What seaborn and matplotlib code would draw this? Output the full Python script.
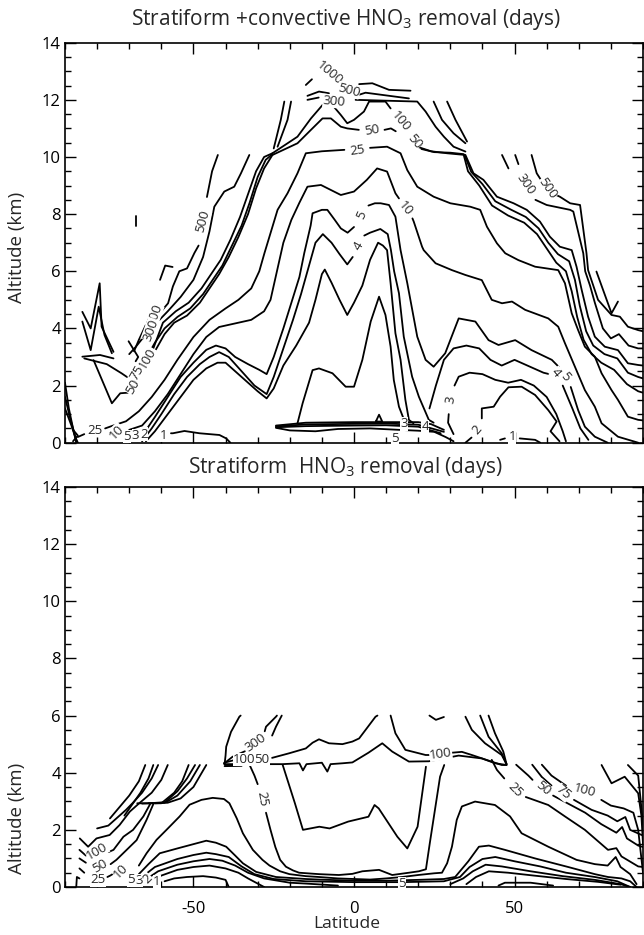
import numpy as np
import pandas as pd
import matplotlib
matplotlib.use("Agg")
import matplotlib.pyplot as plt
import seaborn as sns
from matplotlib.ticker import MultipleLocator, FixedLocator

sns.set_theme(style="ticks")
plt.rcParams['font.family'] = ['Open Sans', 'DejaVu Sans']
plt.rcParams['axes.unicode_minus'] = False

# ---------------- Top panel: contour lines (lat, altitude km) ----------------
top_1000 = [
    [(-15.0, 12.52), (-13.1, 12.72)],
    [(1.6, 12.55), (5.7, 12.58), (10.9, 12.35), (17.6, 12.32)],
    [(29.0, 11.94), (31.6, 11.30), (35.2, 10.54)],
    [(-19.6, 11.94), (-20.7, 11.30), (-23.8, 10.36)],
]
top_500 = [
    [(-14.5, 12.14), (-10.9, 12.29), (-7.8, 12.23)],
    [(0.5, 12.14), (3.6, 12.25), (17.1, 12.05)],
    [(24.8, 11.94), (27.4, 11.30), (31.0, 10.83), (34.7, 10.48)],
    [(-21.7, 11.94), (-22.8, 11.30), (-25.0, 10.30)],
    [(-42.4, 10.07), (-44.2, 9.5), (-45.8, 8.6)],
    [(-48.4, 6.9), (-49.7, 6.64), (-52.0, 6.1), (-54.4, 6.0), (-56.4, 5.47), (-57.9, 4.88), (-60.0, 4.6)],
    [(-64.5, 4.2), (-67.0, 3.6), (-68.5, 3.2)],
    [(55.3, 10.07), (56.9, 9.43), (58.5, 9.15)],
    [(62.0, 8.72), (64.1, 8.61), (67.3, 8.38), (70.4, 8.32), (72.4, 6.63), (72.9, 6.04), (76.0, 5.0),
     (80.2, 4.47), (82.8, 4.41), (85.3, 4.06), (88.5, 3.94), (90.0, 3.9)],
    [(-60.4, 5.7), (-58.8, 6.2), (-56.5, 6.15)],
    [(-67.8, 7.95), (-67.8, 7.6)],
]
top_300 = [
    [(-14.5, 12.0), (-11.0, 12.08)],
    [(0.5, 12.0), (19.7, 11.94), (22.3, 11.59), (25.4, 11.06), (28.0, 10.71), (31.0, 10.36), (34.7, 10.19)],
    [(-32.6, 10.07), (-35.2, 9.43), (-37.3, 8.96), (-40.4, 8.79), (-43.5, 8.26), (-45.0, 7.4), (-47.0, 6.5),
     (-50.0, 5.7), (-54.0, 5.1), (-58.0, 4.6), (-61.0, 4.25)],
    [(-65.5, 3.7), (-68.0, 3.35), (-70.0, 3.1)],
    [(50.2, 10.07), (51.2, 9.75)],
    [(56.5, 8.5), (60.0, 8.32), (63.0, 8.25), (67.3, 8.15), (68.3, 8.09), (71.4, 6.63), (72.0, 6.0),
     (73.5, 5.5), (75.0, 4.9), (77.5, 4.0), (80.0, 3.65), (82.5, 3.8), (85.5, 3.4), (88.5, 3.3), (90.0, 3.3)],
    [(46.1, 10.07), (48.1, 9.6)],
]
top_100 = [
    [(-25.4, 10.13), (-17.6, 10.71), (-13.4, 11.35), (-9.8, 11.82), (-7.2, 11.88), (-4.1, 11.47),
     (-2.1, 11.18), (0.0, 11.3), (3.1, 11.59), (4.7, 11.94), (9.8, 11.94), (11.4, 11.7)],
    [(19.0, 10.45), (19.7, 10.36), (24.0, 10.2), (29.0, 10.13), (34.7, 10.07), (37.2, 9.43), (40.3, 9.2),
     (44.5, 8.61), (49.7, 8.38), (53.8, 8.15), (57.9, 7.74), (61.0, 7.21), (64.1, 6.86), (67.8, 6.74),
     (69.3, 6.16), (70.9, 5.35), (72.9, 4.41), (75.0, 3.71), (78.1, 3.36), (82.2, 3.24), (85.3, 2.78),
     (88.5, 2.72), (90.0, 2.7)],
    [(-62.5, 3.3), (-59.5, 4.2), (-55.5, 4.6), (-51.5, 4.9), (-47.5, 5.4), (-44.5, 5.9), (-41.5, 6.4),
     (-38.5, 7.1), (-35.5, 7.9), (-33.0, 8.7), (-30.5, 9.5), (-28.0, 10.0), (-25.4, 10.13)],
    [(75.5, 5.99), (80.2, 4.53), (82.2, 4.94)],
]
top_75 = [
    [(-66.0, 2.75), (-64.5, 3.0), (-62.0, 3.5), (-59.0, 4.0), (-55.0, 4.4), (-51.0, 4.7), (-47.0, 5.2),
     (-44.0, 5.7), (-41.0, 6.2), (-38.0, 6.9), (-35.0, 7.6), (-32.5, 8.4), (-30.0, 9.3), (-27.5, 9.9),
     (-25.4, 10.1)],
    [(34.4, 10.08), (36.5, 9.48), (40.0, 9.05), (44.0, 8.45), (49.0, 8.15), (53.5, 7.9), (57.5, 7.5),
     (60.5, 7.0), (63.5, 6.6), (67.0, 6.35), (68.8, 5.7), (70.3, 4.8), (72.3, 3.9), (74.5, 3.4),
     (78.0, 3.1), (82.0, 2.95), (85.3, 2.45), (88.5, 2.3), (90.0, 2.25)],
]
top_50 = [
    [(-25.4, 10.07), (-17.6, 10.48), (-13.4, 10.95), (-9.8, 11.35), (-7.2, 11.35), (-4.1, 11.06),
     (-2.1, 11.0), (1.5, 10.95)],
    [(9.5, 10.95), (11.5, 11.0), (13.0, 10.9)],
    [(21.0, 10.28), (25.0, 10.17), (30.0, 10.15), (34.1, 10.1), (35.5, 9.5), (39.0, 9.0), (43.0, 8.3),
     (48.0, 7.95), (53.0, 7.7), (57.0, 7.3), (60.0, 6.8), (63.0, 6.3), (66.0, 6.0), (67.8, 5.3),
     (69.5, 4.4), (71.5, 3.6), (74.0, 3.1), (77.0, 2.8), (81.0, 2.55), (85.0, 2.05), (88.5, 1.8),
     (90.0, 1.75)],
    [(-84.0, 2.95), (-77.0, 2.75), (-72.4, 2.43), (-70.7, 2.3)],
    [(-67.0, 2.2), (-65.0, 2.6), (-62.0, 3.2), (-59.0, 3.8), (-56.0, 4.2), (-52.0, 4.45), (-48.0, 4.9),
     (-45.0, 5.4), (-42.0, 5.9), (-39.0, 6.5), (-36.0, 7.2), (-33.0, 8.0), (-30.5, 8.9), (-28.0, 9.6),
     (-25.4, 10.07)],
]
top_25 = [
    [(-86.0, 0.2), (-84.0, 0.3)],
    [(-77.5, 0.5), (-75.0, 0.6), (-71.0, 0.75), (-67.0, 1.1), (-63.0, 1.6), (-59.0, 2.2), (-55.0, 2.9),
     (-50.0, 3.7), (-45.0, 4.3), (-40.0, 4.7), (-36.0, 5.0), (-32.0, 5.4), (-29.5, 6.0), (-27.9, 6.63),
     (-23.8, 8.15), (-20.7, 8.73), (-17.6, 9.43), (-15.0, 10.13), (-10.0, 10.2), (-3.0, 10.25)],
    [(5.0, 10.32), (10.3, 10.36), (14.5, 10.13), (16.6, 9.54), (19.7, 8.96), (24.8, 8.61), (30.0, 8.38),
     (36.2, 8.26), (39.3, 8.15), (41.4, 7.56), (44.5, 6.98), (47.1, 6.63), (51.2, 6.39), (56.4, 6.16),
     (63.6, 6.04), (65.7, 5.58), (67.8, 4.53), (69.8, 3.94), (71.9, 3.36), (75.0, 3.01), (77.1, 2.43),
     (80.2, 1.84), (82.2, 1.5), (85.3, 0.91), (88.5, 0.8), (90.0, 0.78)],
]
top_10 = [
    [(-70.0, 0.45), (-66.0, 0.6), (-62.0, 1.1), (-58.0, 1.7), (-54.0, 2.4), (-50.0, 3.1), (-46.0, 3.7),
     (-42.0, 4.05), (-36.0, 4.2), (-32.0, 4.3), (-28.0, 4.6), (-26.0, 5.0), (-24.0, 6.0), (-22.0, 7.0),
     (-19.5, 7.8), (-17.0, 8.4), (-14.5, 8.96), (-10.3, 9.02), (-4.1, 8.67), (0.0, 8.79), (4.0, 9.2),
     (7.2, 9.6), (10.3, 9.49), (12.9, 8.73), (14.0, 8.55)],
    [(18.2, 7.85), (18.6, 7.74), (21.2, 6.86), (21.7, 6.74), (25.4, 6.28), (30.5, 6.04), (34.7, 5.87),
     (39.8, 5.69), (42.9, 5.0), (46.1, 4.88), (49.2, 4.94), (53.3, 4.65), (60.5, 4.35), (63.6, 4.06),
     (65.7, 3.48), (68.8, 2.66), (71.9, 1.84), (75.0, 1.26), (77.1, 0.68), (82.2, 0.21), (88.5, 0.0)],
]
top_5 = [
    [(-67.5, 0.05), (-65.0, 0.4), (-62.0, 0.9), (-58.0, 1.6), (-54.0, 2.3), (-50.0, 2.8), (-46.0, 3.25),
     (-43.0, 3.4), (-40.0, 3.3), (-37.0, 3.0), (-33.0, 2.75), (-29.5, 2.55), (-27.2, 2.4), (-25.0, 3.0),
     (-22.0, 4.0), (-19.5, 4.9), (-17.0, 5.8), (-15.5, 6.63), (-13.5, 7.6), (-12.9, 8.03), (-10.0, 8.15),
     (-8.3, 8.15), (-6.0, 7.8), (-4.1, 7.5), (-2.0, 7.35), (0.0, 7.55)],
    [(4.5, 8.3), (6.5, 8.38), (8.3, 8.38), (10.9, 8.32), (12.9, 7.91), (14.5, 6.74), (16.6, 5.58),
     (19.7, 3.71), (22.3, 2.9), (24.8, 2.66), (28.4, 3.13), (31.6, 4.06), (32.6, 4.35), (37.8, 4.24),
     (41.9, 3.59), (45.0, 3.42), (50.2, 3.59), (55.3, 3.24), (61.6, 2.9), (63.8, 2.65)],
    [(67.5, 1.95), (69.8, 1.14), (71.9, 0.56), (75.0, 0.21), (79.0, 0.0)],
]
top_4 = [
    [(-66.0, 0.05), (-63.0, 0.5), (-60.0, 1.0), (-56.0, 1.7), (-52.0, 2.3), (-48.0, 2.75), (-45.0, 3.0),
     (-42.0, 3.17), (-39.0, 3.0), (-35.0, 2.5), (-31.0, 2.0), (-27.2, 1.7), (-25.0, 2.3), (-22.0, 3.3),
     (-19.0, 4.3), (-16.5, 5.2), (-14.0, 6.2), (-12.0, 7.0), (-9.7, 7.3), (-7.0, 7.0), (-4.5, 6.6),
     (-2.1, 6.24), (-0.4, 6.5)],
    [(3.2, 7.25), (5.0, 7.35), (8.2, 7.48), (10.5, 7.3), (11.5, 6.74), (12.5, 6.0), (14.0, 5.23),
     (15.5, 3.71), (18.1, 2.31), (20.2, 1.61), (23.3, 0.8), (24.8, 0.7)],
    [(23.5, 1.2), (25.5, 2.0), (28.0, 2.9), (31.0, 3.3), (35.0, 3.4), (39.0, 3.3), (42.5, 2.9),
     (46.0, 2.7), (50.0, 2.9), (55.0, 2.65), (59.0, 2.45), (60.8, 2.4)],
    [(65.0, 2.0), (68.0, 1.2), (70.5, 0.5), (73.0, 0.1)],
]
top_3 = [
    [(-64.8, 0.05), (-62.0, 0.4), (-58.0, 1.0), (-54.0, 1.6), (-50.0, 2.2), (-46.0, 2.6), (-42.5, 2.8),
     (-40.0, 2.8), (-37.0, 2.5), (-33.0, 2.1), (-30.0, 1.8), (-27.2, 1.55), (-25.0, 1.9), (-22.0, 2.7),
     (-18.0, 3.4), (-14.0, 4.2), (-12.0, 5.0), (-10.0, 5.9), (-9.1, 6.06), (-7.0, 5.6), (-4.5, 5.0),
     (-2.1, 4.47), (0.0, 4.9), (2.6, 5.5), (5.0, 6.4), (7.5, 7.0), (9.0, 6.9), (10.3, 6.74), (11.4, 5.58),
     (12.9, 3.83), (14.5, 2.9), (16.0, 1.5), (17.1, 0.8), (18.5, 0.68)],
    [(31.0, 0.3), (29.3, 0.7), (29.5, 1.0)],
    [(31.3, 2.0), (32.6, 2.31), (36.0, 2.45), (40.0, 2.4), (44.0, 2.2), (48.0, 2.1), (52.0, 2.2),
     (56.0, 2.0), (60.0, 1.6), (63.0, 1.0), (65.0, 0.4), (66.0, 0.05)],
]
top_2 = [
    [(-17.6, 0.68), (-16.0, 1.38), (-12.9, 2.54), (-10.9, 2.6), (-6.7, 2.43), (-2.6, 1.96), (0.0, 1.96),
     (2.6, 2.9), (5.2, 4.24), (7.8, 5.11), (9.8, 4.47), (11.4, 3.36), (12.4, 2.19), (14.0, 1.26),
     (16.0, 0.68)],
    [(34.7, 0.0), (36.6, 0.18)],
    [(39.8, 0.85), (39.8, 1.2), (43.5, 1.26), (45.5, 1.61), (48.1, 1.94), (52.2, 1.96), (56.4, 1.67),
     (60.5, 1.14), (63.1, 0.74), (61.2, 0.4), (64.0, 0.05)],
]
top_1 = [
    [(-57.0, 0.33), (-56.4, 0.33), (-52.8, 0.41), (-48.1, 0.33), (-41.9, 0.27), (-39.8, 0.15), (-38.5, 0.0)],
    [(45.5, 0.1), (47.0, 0.15)],
    [(51.6, 0.15), (56.4, 0.1), (58.0, 0.0)],
]
top_inversion = [
    [(-24.3, 0.6), (-15.0, 0.7), (0.0, 0.72), (10.0, 0.72), (20.0, 0.72), (24.0, 0.65), (28.0, 0.45)],
    [(-24.3, 0.57), (-15.0, 0.64), (0.0, 0.66), (10.0, 0.67), (20.0, 0.63), (28.0, 0.38)],
    [(-24.3, 0.54), (-15.0, 0.58), (0.0, 0.6), (10.0, 0.61), (20.0, 0.56), (27.0, 0.33)],
    [(-24.3, 0.52), (-20.0, 0.43), (-12.0, 0.4), (-5.0, 0.48), (5.0, 0.5), (14.0, 0.45), (20.0, 0.42),
     (25.0, 0.38), (28.5, 0.2), (31.0, 0.05)],
    [(6.8, 0.74), (7.8, 0.98), (8.8, 0.74), (6.8, 0.74)],
]
top_edge = [
    [(-90.0, 2.1), (-88.8, 1.2), (-87.5, 0.5), (-86.5, 0.0)],
    [(-90.0, 1.6), (-88.5, 0.9), (-87.0, 0.3), (-86.3, 0.0)],
    [(-90.0, 1.2), (-88.0, 0.6), (-86.8, 0.2), (-86.0, 0.0)],
    [(-87.5, 0.45), (-86.0, 0.25), (-87.5, 0.05)],
    [(-84.6, 4.58), (-82.0, 4.0), (-79.2, 5.58), (-78.6, 4.06), (-74.9, 3.18)],
    [(-84.6, 4.24), (-82.0, 3.24), (-79.5, 4.76), (-77.7, 3.77), (-75.4, 3.13)],
    [(-84.6, 3.01), (-79.1, 3.07), (-74.9, 2.95)],
    [(-81.1, 2.89), (-75.4, 1.38), (-72.8, 1.73), (-70.4, 1.75)],
    [(-70.2, 3.55), (-67.2, 3.0), (-68.0, 2.85)],
]
top_labels = [
    ("1000", -7.6, 12.95, -40), ("500", -1.6, 12.34, -15), ("300", -6.2, 11.95, -5),
    ("50", 5.6, 10.92, 10), ("100", 14.4, 11.25, -50), ("50", 18.8, 10.55, -50),
    ("25", 1.0, 10.22, 8), ("10", 16.1, 8.2, -50), ("5", 2.3, 7.95, 65), ("4", 1.4, 6.9, 60),
    ("300", 53.6, 9.05, -55), ("500", 60.2, 8.9, -55), ("5", 65.8, 2.3, -50), ("4", 62.9, 2.45, -50),
    ("3", 30.0, 1.5, 80), ("2", 38.3, 0.45, 50), ("1", 49.3, 0.2, 0),
    ("3", 15.5, 0.66, 0), ("4", 22.2, 0.56, 0), ("5", 12.9, 0.15, 0),
    ("500", -47.1, 7.75, 75), ("500", -62.2, 4.45, 70), ("300", -63.3, 3.95, 70),
    ("100", -64.3, 2.95, 60), ("75", -67.5, 2.45, 60), ("50", -68.8, 1.95, 60),
    ("25", -80.8, 0.42, 0), ("10", -74.0, 0.38, 45), ("5", -70.6, 0.22, 0), ("3", -68.0, 0.25, 0),
    ("2", -65.4, 0.3, 0), ("1", -59.3, 0.25, 0),
]

# ---------------- Bottom panel: contour lines (lat, altitude km) ----------------
bot_upper = [
    [(-40.3, 4.3), (-30.0, 4.3), (-22.2, 4.3), (-17.0, 4.33), (-15.9, 4.08), (-14.8, 4.3), (-10.0, 4.35),
     (-8.3, 4.04), (-7.3, 4.3), (-3.6, 4.33), (-0.5, 4.36), (4.5, 4.7), (8.8, 5.03), (11.9, 4.74),
     (17.1, 4.39), (23.3, 4.4), (32.6, 4.6), (39.8, 4.5), (44.0, 4.33), (47.5, 4.27)],
    [(-40.4, 4.35), (-37.0, 4.45), (-36.5, 4.46)],
    [(-25.5, 4.52), (-20.2, 4.68), (-15.0, 4.85), (-12.9, 5.05), (-10.9, 5.17), (-7.8, 5.03),
     (-3.6, 5.0), (-0.5, 5.09), (1.6, 5.2), (6.7, 5.96), (7.3, 6.0)],
    [(-40.3, 4.3), (-40.0, 4.6), (-39.8, 4.91), (-38.3, 5.43), (-35.7, 5.96), (-35.3, 6.0)],
    [(-40.5, 4.32), (-37.8, 4.56), (-34.0, 4.75)],
    [(-27.8, 5.45), (-27.4, 5.61), (-24.3, 5.96), (-24.0, 6.0)],
    [(-22.5, 6.0), (-24.3, 5.61), (-25.5, 5.3)],
    [(-40.3, 4.26), (-33.0, 4.26)], [(-40.3, 4.23), (-35.0, 4.24)],
    [(11.4, 6.0), (12.9, 5.38), (16.0, 4.8), (22.3, 4.62), (23.5, 4.62)],
    [(30.5, 4.7), (33.6, 4.73), (36.7, 4.62), (46.0, 4.27), (47.5, 4.27)],
    [(23.5, 6.0), (25.5, 5.85), (28.0, 5.95)],
    [(34.7, 5.96), (36.7, 5.5), (40.8, 5.03), (46.0, 4.62), (47.5, 4.3)],
    [(39.3, 6.0), (41.9, 5.26), (46.0, 4.68), (47.5, 4.3)],
    [(41.9, 6.0), (43.9, 5.38), (46.5, 4.74), (47.5, 4.3)],
]
bot_25 = [
    [(-32.5, 4.27), (-31.0, 3.9), (-30.0, 3.6)],
    [(-27.4, 2.6), (-26.0, 2.0), (-24.5, 1.4), (-23.0, 0.95), (-21.2, 0.71), (-19.0, 0.58), (-17.1, 0.5),
     (-10.9, 0.45), (-4.7, 0.42), (-0.5, 0.46), (2.6, 0.55), (7.8, 0.6), (11.9, 0.42), (17.1, 0.5),
     (20.2, 0.55), (22.4, 0.62), (23.6, 1.53), (26.8, 3.86), (28.1, 4.27)],
    [(42.9, 4.45), (44.5, 4.1), (46.8, 3.8)],
    [(53.5, 3.15), (60.5, 2.87), (65.7, 2.47), (71.9, 2.0), (79.1, 1.3), (81.7, 1.36), (83.3, 1.07),
     (88.5, 0.72), (90.0, 0.7)],
]
bot_50 = [
    [(-22.2, 4.27), (-18.4, 2.93), (-15.9, 2.0), (-10.8, 2.11), (-7.6, 2.05), (-1.8, 2.29), (4.5, 2.46),
     (6.4, 2.87), (7.7, 2.75), (13.5, 1.76), (16.6, 1.35), (19.8, 2.11), (22.4, 4.21)],
    [(50.5, 4.28), (54.3, 3.9), (55.6, 3.75)],
    [(62.0, 3.2), (67.0, 2.9), (72.0, 2.6), (77.0, 2.2), (81.7, 1.9), (83.5, 2.1), (85.0, 1.7),
     (88.5, 1.45), (90.0, 1.4)],
]
bot_75 = [
    [(55.5, 4.28), (58.5, 3.85), (61.5, 3.55)],
    [(68.5, 3.05), (74.0, 2.7), (79.0, 2.5), (82.0, 2.3), (84.5, 2.45), (86.0, 2.0), (90.0, 1.8)],
]
bot_100 = [
    [(58.5, 4.28), (61.5, 3.9), (66.0, 3.55)],
    [(77.0, 3.05), (80.0, 2.85), (84.0, 2.75), (87.0, 2.6), (88.5, 2.0), (89.5, 1.0), (90.0, 0.5)],
    [(77.1, 4.27), (80.2, 3.63), (84.3, 3.86), (88.5, 3.28), (89.5, 2.5), (90.0, 1.5)],
    [(85.3, 4.27), (88.5, 3.9), (89.3, 3.0), (90.0, 2.2)],
]
bot_left = [
    [(-85.4, 1.7), (-82.8, 1.41), (-80.2, 1.7), (-76.1, 1.82), (-73.0, 2.17), (-69.8, 2.64), (-67.0, 2.92),
     (-63.0, 3.3), (-60.0, 3.75), (-58.0, 4.27)],
    [(-80.0, 2.05), (-76.5, 2.15), (-73.5, 2.45), (-71.0, 2.7), (-69.0, 2.93), (-66.0, 3.3), (-63.0, 3.8),
     (-61.0, 4.27)],
    [(-76.0, 2.4), (-73.0, 2.8), (-70.0, 3.2), (-67.0, 3.7), (-65.0, 4.27)],
    [(-71.5, 2.5), (-69.0, 2.9), (-66.5, 3.3), (-64.0, 3.8), (-62.5, 4.27)],
    [(-67.5, 2.93), (-60.0, 2.93), (-56.0, 3.3), (-53.5, 3.7), (-51.5, 4.27)],
    [(-66.0, 2.92), (-59.0, 2.95), (-55.0, 3.35), (-52.0, 3.8), (-49.5, 4.27)],
    [(-64.0, 2.93), (-58.5, 2.97), (-55.0, 3.2), (-51.0, 3.7), (-48.0, 4.27)],
    [(-62.0, 2.93), (-58.0, 2.95), (-54.0, 3.1), (-50.0, 3.5), (-46.0, 4.27)],
    [(-76.5, 1.22), (-74.9, 1.3), (-71.8, 1.76), (-68.8, 2.0), (-65.6, 2.47), (-63.5, 2.9)],
    [(-75.8, 0.8), (-74.0, 0.95), (-70.8, 1.3), (-67.7, 1.64), (-64.6, 2.35), (-62.5, 2.9)],
    [(-76.8, 0.35), (-75.9, 0.4), (-74.5, 0.5)],
    [(-85.5, 1.3), (-83.5, 1.1)], [(-85.5, 1.0), (-83.5, 0.85)], [(-85.5, 0.65), (-84.0, 0.5)],
    [(-86.5, 0.0), (-86.3, 0.35), (-85.5, 0.3)],
]
bot_low = [
    [(-67.0, 0.75), (-64.6, 1.18), (-61.5, 1.65), (-58.4, 2.0), (-54.3, 2.47), (-51.2, 2.88), (-47.5, 3.05),
     (-44.0, 3.12), (-40.5, 3.08), (-38.8, 2.93), (-36.5, 2.4), (-34.6, 1.88), (-31.5, 1.3), (-28.5, 0.95),
     (-26.3, 0.75), (-23.0, 0.55), (-20.1, 0.45), (-15.0, 0.38), (-10.9, 0.35), (-5.0, 0.3), (0.0, 0.28),
     (5.0, 0.26), (10.0, 0.3), (15.0, 0.35), (20.0, 0.42), (25.0, 0.48), (27.4, 0.5), (29.0, 0.83),
     (30.5, 1.41), (32.0, 2.35), (33.6, 2.82), (37.7, 2.99), (43.9, 2.87), (48.6, 2.47), (52.2, 1.88),
     (60.5, 1.41), (69.3, 0.95), (75.0, 0.8), (79.0, 0.75), (81.5, 1.05), (83.0, 0.7), (86.0, 0.45),
     (88.0, 0.1)],
    [(-67.0, 0.45), (-64.0, 0.8), (-60.5, 1.18), (-55.0, 1.35), (-50.0, 1.5), (-46.0, 1.62), (-43.0, 1.55),
     (-39.8, 1.41), (-37.0, 1.1), (-34.6, 0.83), (-30.5, 0.53), (-24.3, 0.35), (-15.0, 0.28), (-10.9, 0.26),
     (0.0, 0.22), (10.0, 0.22), (20.0, 0.25), (28.0, 0.28), (31.5, 0.35), (35.6, 0.9), (38.9, 1.41),
     (42.0, 1.45), (47.0, 1.3), (56.4, 1.0), (66.7, 0.7), (75.0, 0.45), (79.1, 0.35), (83.3, 0.3),
     (86.0, 0.2), (88.0, 0.0)],
    [(-66.0, 0.35), (-62.0, 0.7), (-55.0, 0.98), (-50.0, 1.12), (-46.0, 1.2), (-43.0, 1.15), (-39.0, 1.05),
     (-35.0, 0.72), (-31.0, 0.45), (-25.0, 0.28), (-15.0, 0.2), (0.0, 0.17), (15.0, 0.17), (28.0, 0.2),
     (33.0, 0.35), (36.0, 0.7), (40.0, 0.98), (44.0, 1.05), (50.0, 0.9), (58.0, 0.72), (66.0, 0.5),
     (75.0, 0.35), (82.0, 0.2), (86.0, 0.0)],
    [(-65.0, 0.25), (-61.0, 0.55), (-55.0, 0.78), (-50.0, 0.9), (-45.0, 0.98), (-41.0, 0.92), (-37.0, 0.75),
     (-33.0, 0.5), (-28.0, 0.3), (-20.0, 0.15), (-15.0, 0.12), (-5.0, 0.05)],
    [(30.0, 0.1), (34.0, 0.3), (37.0, 0.55), (41.0, 0.78), (46.0, 0.72), (55.0, 0.55), (65.0, 0.38),
     (75.0, 0.25), (83.0, 0.1), (86.0, 0.0)],
    [(-63.5, 0.15), (-60.0, 0.4), (-55.0, 0.6), (-50.0, 0.7), (-45.0, 0.75), (-40.0, 0.65), (-36.0, 0.5),
     (-33.0, 0.3), (-30.0, 0.12), (-28.0, 0.0)],
    [(35.0, 0.1), (38.0, 0.35), (42.0, 0.55), (48.0, 0.5), (56.0, 0.4), (66.0, 0.28), (76.0, 0.18),
     (83.0, 0.08)],
    [(-59.0, 0.2), (-56.0, 0.3), (-52.0, 0.35), (-47.0, 0.38), (-43.0, 0.33), (-40.0, 0.25), (-39.0, 0.0)],
    [(45.0, 0.05), (47.0, 0.15), (55.0, 0.15), (62.0, 0.05)],
]
bot_labels = [
    ("300", -30.6, 5.05, 35), ("100", -34.2, 4.47, 0), ("50", -28.6, 4.45, 0),
    ("100", 27.0, 4.66, 8), ("25", -28.6, 3.1, -80),
    ("25", 50.2, 3.4, -45), ("50", 58.9, 3.46, -40), ("75", 65.2, 3.3, -40), ("100", 71.9, 3.38, -15),
    ("100", -80.0, 1.25, 30), ("50", -79.0, 0.72, 30), ("25", -79.8, 0.25, 0),
    ("10", -72.6, 0.55, 45), ("5", -69.4, 0.25, 0), ("3", -66.9, 0.22, 0), ("2", -64.3, 0.3, 45),
    ("1", -61.4, 0.2, 0), ("5", 15.0, 0.12, 0),
]


def segments_frame(groups):
    rows = []
    seg = 0
    for name, lines in groups:
        for line in lines:
            for k, (la, al) in enumerate(line):
                rows.append({"lat": la, "alt": al, "seg": seg, "order": k})
            seg += 1
    return pd.DataFrame(rows)


top_df = segments_frame([
    ("1000", top_1000), ("500", top_500), ("300", top_300), ("100", top_100), ("75", top_75),
    ("50", top_50), ("25", top_25), ("10", top_10), ("5", top_5), ("4", top_4), ("3", top_3),
    ("2", top_2), ("1", top_1), ("inv", top_inversion), ("edge", top_edge)])
bot_df = segments_frame([
    ("upper", bot_upper), ("25", bot_25), ("50", bot_50), ("75", bot_75), ("100", bot_100),
    ("left", bot_left), ("low", bot_low)])

fig = plt.figure(figsize=(6.44, 9.35), dpi=100)
ax1 = fig.add_axes([65 / 644, 1 - 442.7 / 935, 578 / 644, 400 / 935])
ax2 = fig.add_axes([65 / 644, 1 - 887 / 935, 578 / 644, 400 / 935])

for ax, df, labels in ((ax1, top_df, top_labels), (ax2, bot_df, bot_labels)):
    sns.lineplot(data=df, x="lat", y="alt", units="seg", estimator=None, sort=False,
                 color="black", lw=1.3, ax=ax, legend=False)
    for txt, la, al, rot in labels:
        ax.text(la, al, txt, rotation=rot, ha="center", va="center", fontsize=9.5,
                rotation_mode="anchor",
                bbox=dict(boxstyle="square,pad=0.02", fc="white", ec="none"), zorder=5)
    ax.set_xlim(-90, 90)
    ax.set_ylim(0, 14)
    ax.set_xlabel("")
    ax.set_ylabel("")
    ax.xaxis.set_major_locator(FixedLocator([-50, 0, 50]))
    ax.xaxis.set_minor_locator(MultipleLocator(10))
    ax.yaxis.set_major_locator(MultipleLocator(2))
    ax.yaxis.set_minor_locator(MultipleLocator(0.5))
    ax.tick_params(which="both", direction="in", top=True, right=True, colors="black",
                   labelsize=12, width=1.0)
    ax.tick_params(which="major", length=8, pad=3)
    ax.tick_params(which="minor", length=4)
    ax.tick_params(axis="x", which="major", pad=10)
    for sp in ax.spines.values():
        sp.set_linewidth(1.2)
        sp.set_color("black")
    ax.set_facecolor("white")

ax1.tick_params(axis="x", labelbottom=False)

fig.text(346 / 644, 1 - 19 / 935, r"Stratiform +convective HNO$_\mathregular{3}$ removal (days)",
         ha="center", va="center", fontsize=15)
fig.text(346 / 644, 1 - 468 / 935, r"Stratiform  HNO$_\mathregular{3}$ removal (days)",
         ha="center", va="center", fontsize=15)
fig.text(17 / 644, 1 - 247 / 935, "Altitude (km)", rotation=90, ha="center", va="center", fontsize=13.5)
fig.text(17 / 644, 1 - 818 / 935, "Altitude (km)", rotation=90, ha="center", va="center", fontsize=13.5)
fig.text(347 / 644, 1 - 924 / 935, "Latitude", ha="center", va="center", fontsize=12.5)

fig.savefig("out.png", dpi=100, facecolor="white")
